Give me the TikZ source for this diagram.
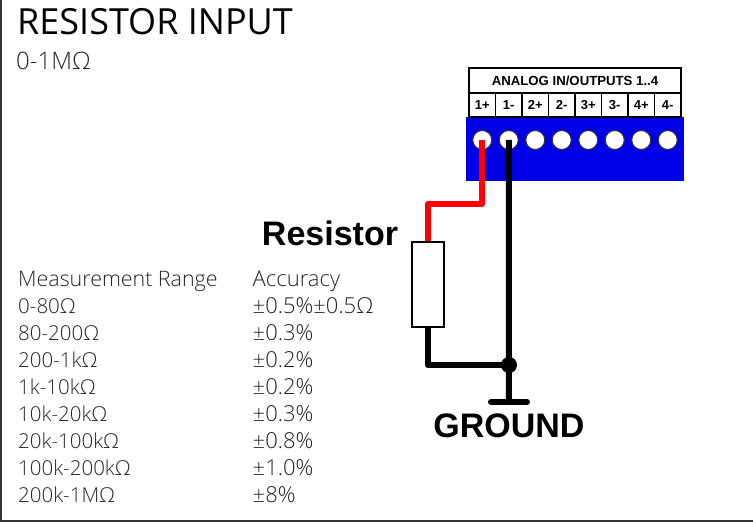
\documentclass[tikz,border=0pt]{standalone}
\usepackage{fontspec}
\setmainfont{Open Sans}
\newfontfamily\labelfont{Liberation Sans}
\newfontfamily\lightfont{Open Sans Light}
\usepackage{tikz}
\tikzset{
	textline/.style={anchor=west, inner sep=0pt, text=black!85, font=\lightfont\fontsize{20.5}{24}\selectfont},
	acclines/.style={textline, font=\lightfont\fontsize{22}{26}\selectfont},
	termcell/.style={draw, line width=1.2pt, minimum width=26.5pt, minimum height=24pt, inner sep=0pt, font=\labelfont\bfseries\fontsize{13}{15}\selectfont},
	termhole/.style={circle, draw=black!80, line width=1pt, fill=white, minimum size=19pt, inner sep=0pt},
	wire/.style={line width=6pt, line join=round},
	biglabel/.style={inner sep=0pt, font=\labelfont\bfseries\fontsize{34}{40}\selectfont}
}
\begin{document}
\begin{tikzpicture}[x=1pt, y=-1pt]
	\useasboundingbox (0,0) rectangle (753,524);

	% Frame
	\draw[line width=2pt, black!80] (1,0) -- (1,521) -- (753,521);

	% Title
	\node[anchor=west, inner sep=0pt, font=\fontsize{36}{42}\selectfont] (title) at (17,22) {RESISTOR INPUT};
	\node[textline, font=\lightfont\fontsize{24}{28}\selectfont] (range) at (16,61) {0-1MΩ};

	% Measurement table
	\node[textline, font=\lightfont\fontsize{21.4}{25}\selectfont] (head1) at (18,281.5) {Measurement Range};
	\node[acclines] (head2) at (252.5,281.5) {Accuracy};
	\foreach \r/\a [count=\i] in {0-80/{0.5\%±0.5Ω}, 80-200/0.3\%, 200-1k/0.2\%, 1k-10k/0.2\%, 10k-20k/0.3\%, 20k-100k/0.8\%, 100k-200k/1.0\%, 200k-1M/8\%} {
		\node[textline] (row\i) at (18,279+27*\i) {\r Ω};
		\node[acclines] (acc\i) at (252.5,279+27*\i) {±\a};
	}

	% Terminal block
	\node[draw, line width=1.2pt, minimum width=212pt, minimum height=25pt, inner sep=0pt, font=\labelfont\bfseries\fontsize{13.2}{16}\selectfont] (header) at (575,80.5) {ANALOG IN/OUTPUTS 1..4};
	\node[fill={rgb,255:red,0;green,0;blue,230}, minimum width=218pt, minimum height=64pt, inner sep=0pt] (block) at (575,149) {};
	\foreach \t [count=\i] in {1+,1-,2+,2-,3+,3-,4+,4-} {
		\node[termcell] (cell\i) at (469+13.25+26.5*\i-26.5,105) {\t};
		\node[termhole] (hole\i) at (469+13.25+26.5*\i-26.5,140) {};
	}

	% Resistor and labels
	\node[draw, line width=1.4pt, fill=white, minimum width=32pt, minimum height=85pt, inner sep=0pt] (resistor) at (428,284.5) {};
	\node[biglabel] (reslabel) at (330,233) {Resistor};
	\node[circle, fill=black, minimum size=16pt, inner sep=0pt] (junction) at (509,365) {};
	\coordinate (gnd) at (509,402);
	\coordinate (gndl) at (491,402);
	\coordinate (gndr) at (527,402);
	\node[biglabel] (gndlabel) at (509,426) {GROUND};

	% Wires
	\draw[wire, red] (hole1.center) -- (hole1.center |- 0,204) -| (resistor.north);
	\draw[wire] (hole2.center) -- (gnd);
	\draw[wire] (resistor.south) |- (junction.center);
	\draw[wire, line cap=round] (gndl) -- (gndr);
\end{tikzpicture}
\end{document}
